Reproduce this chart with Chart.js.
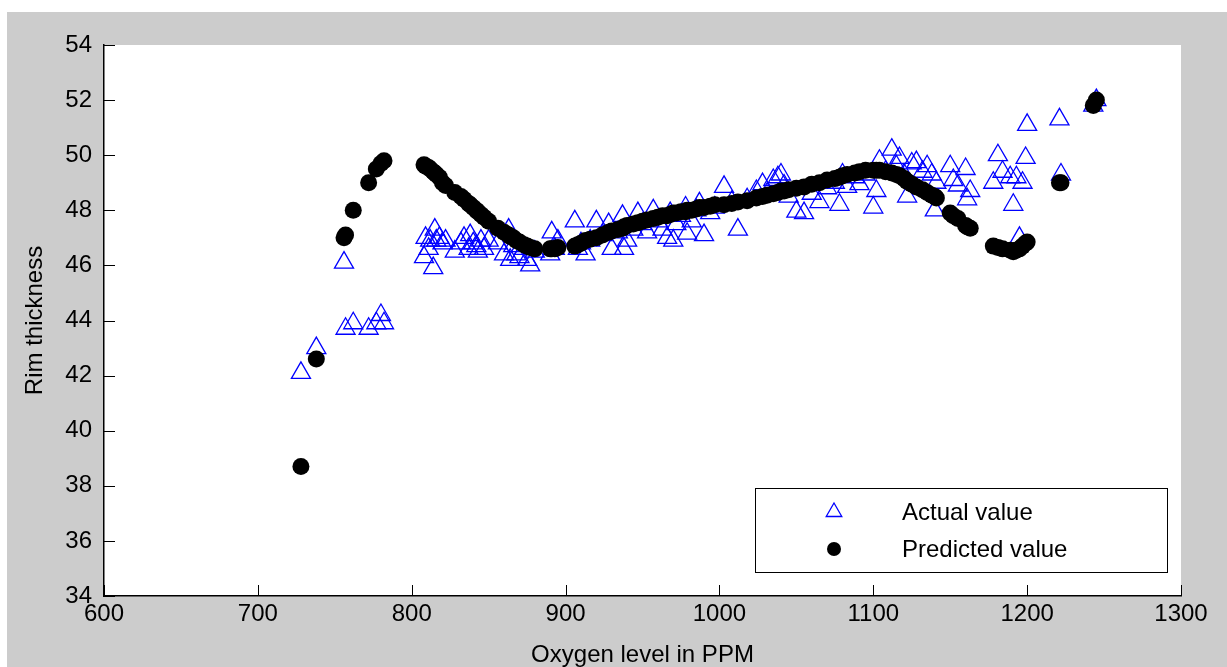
<!DOCTYPE html>
<html>
<head>
<meta charset="utf-8">
<script src="https://cdn.jsdelivr.net/npm/chart.js@4.4.1/dist/chart.umd.min.js"></script>
<style>
    body { margin: 0; background: #ffffff; }
    canvas { display: block; }
</style>
</head>
<body>
<canvas id="myChart" width="1227" height="667"></canvas>
<script>
// oxygen level (PPM) for each sample
const oxygen = [
    728, 738, 756, 757, 762, 772, 777, 780, 782,
    808, 809, 811, 812, 814, 815, 816, 818, 820, 822,
    828, 832, 834, 837, 838, 840, 842, 843, 845, 847, 850,
    856, 860, 863, 864, 866, 868, 870, 873, 875, 877, 880,
    890, 891, 893, 895, 906, 908, 910, 913, 916, 920,
    924, 928, 930, 934, 937, 938, 940, 944, 947, 950,
    953, 957, 960, 963, 966, 968, 970, 972, 975, 978,
    979, 982, 985, 987, 990, 994, 997, 1003, 1008, 1012,
    1018, 1024, 1028, 1031, 1035, 1038, 1040, 1042, 1045, 1050,
    1055, 1060, 1065, 1070, 1075, 1078, 1080, 1083, 1088, 1091,
    1095, 1100, 1102, 1104, 1108, 1112, 1115, 1117, 1120, 1122,
    1125, 1128, 1132, 1135, 1138, 1140, 1141, 1150, 1152, 1155,
    1160, 1161, 1163, 1178, 1181, 1184, 1189, 1191, 1193, 1195,
    1197, 1199, 1200, 1221, 1222, 1243, 1245
];

const actual = [
    42.1, 43.0, 46.1, 43.7, 43.9, 43.7, 43.9, 44.2, 43.9,
    46.3, 47.0, 46.6, 46.9, 45.9, 47.3, 46.9, 47.0, 46.8, 46.9,
    46.5, 46.8, 47.0, 46.6, 47.1, 46.8, 46.7, 46.5, 46.9, 46.6, 46.9,
    46.8, 46.4, 47.3, 46.2, 46.7, 46.4, 46.3, 46.6, 46.2, 46.0, 46.5,
    46.4, 47.2, 46.6, 46.9, 47.6, 46.6, 46.8, 46.4, 46.9, 47.6,
    47.1, 47.5, 46.6, 47.2, 47.8, 46.6, 46.9, 47.3, 47.9, 47.5,
    47.2, 48.0, 47.6, 47.3, 47.0, 47.9, 46.9, 47.5, 47.8, 48.1,
    47.15, 47.6, 48.0, 48.25, 47.1, 47.9, 48.1, 48.85, 48.3, 47.3,
    48.4, 48.7, 48.95, 48.6, 49.1, 49.2, 49.3, 48.9, 48.5, 47.95,
    47.9, 48.6, 48.3, 48.8, 49.0, 48.2, 49.3, 48.85, 49.2, 48.95,
    49.3, 48.1, 48.7, 49.8, 49.4, 50.2, 49.6, 49.9, 49.3, 48.5,
    49.7, 49.75, 49.4, 49.6, 49.3, 48.0, 49.0, 49.6, 49.1, 48.9,
    49.5, 48.4, 48.7, 49.0, 50.0, 49.4, 49.2, 48.2, 49.2, 47.0,
    49.0, 49.9, 51.1, 51.3, 49.3, 51.8, 52.0
];

const predicted = [
    38.7, 42.6, 47.0, 47.1, 48.0, 49.0, 49.5, 49.7, 49.8,
    49.65, 49.6, 49.55, 49.5, 49.4, 49.35, 49.3, 49.2, 49.0, 48.9,
    48.65, 48.5, 48.4, 48.25, 48.2, 48.1, 48.0, 47.95, 47.85, 47.75, 47.6,
    47.35, 47.2, 47.1, 47.05, 47.0, 46.9, 46.85, 46.75, 46.7, 46.65, 46.6,
    46.6, 46.6, 46.6, 46.65, 46.7, 46.75, 46.8, 46.9, 46.95, 47.0,
    47.1, 47.2, 47.25, 47.3, 47.35, 47.4, 47.45, 47.5, 47.55, 47.6,
    47.65, 47.7, 47.75, 47.8, 47.8, 47.85, 47.9, 47.9, 47.95, 47.95,
    48.0, 48.0, 48.05, 48.1, 48.1, 48.15, 48.2, 48.2, 48.25, 48.3,
    48.35, 48.45, 48.5, 48.55, 48.6, 48.65, 48.7, 48.7, 48.75, 48.8,
    48.85, 48.95, 49.0, 49.1, 49.15, 49.2, 49.25, 49.3, 49.35, 49.4,
    49.45, 49.45, 49.45, 49.45, 49.4, 49.35, 49.3, 49.25, 49.15, 49.05,
    48.95, 48.85, 48.75, 48.65, 48.55, 48.5, 48.45, 47.9, 47.8, 47.7,
    47.45, 47.4, 47.35, 46.7, 46.65, 46.6, 46.55, 46.5, 46.55, 46.6,
    46.7, 46.8, 46.85, 49.0, 49.0, 51.8, 52.0
];

const xMin = 600, xMax = 1300, xStep = 100;
const yMin = 34, yMax = 54, yStep = 2;

const fontFamily = '"Liberation Sans", Arial, sans-serif';

function toPoints(ys) {
    return oxygen.map(function (x, i) { return { x: x, y: ys[i] }; });
}

// gray figure around a white axes box
const figureBackground = {
    id: 'figureBackground',
    beforeDraw: function (chart) {
        const ctx = chart.ctx;
        const a = chart.chartArea;
        ctx.save();
        ctx.fillStyle = '#ffffff';
        ctx.fillRect(0, 0, chart.width, chart.height);
        ctx.fillStyle = '#cccccc';
        ctx.fillRect(7, 12, chart.width - 7, chart.height - 12);
        ctx.fillStyle = '#ffffff';
        ctx.fillRect(a.left, a.top, a.right - a.left, a.bottom - a.top);
        ctx.restore();
    }
};

// matlab style ticks that point into the plot
const inwardTicks = {
    id: 'inwardTicks',
    afterDatasetsDraw: function (chart) {
        const ctx = chart.ctx;
        const xs = chart.scales.x;
        const ys = chart.scales.y;
        ctx.save();
        ctx.strokeStyle = '#000000';
        ctx.lineWidth = 1;
        ctx.beginPath();
        xs.ticks.forEach(function (t) {
            const px = Math.round(xs.getPixelForValue(t.value)) + 0.5;
            ctx.moveTo(px, ys.bottom);
            ctx.lineTo(px, ys.bottom - 11);
        });
        ys.ticks.forEach(function (t) {
            const py = Math.round(ys.getPixelForValue(t.value)) + 0.5;
            ctx.moveTo(xs.left, py);
            ctx.lineTo(xs.left + 11, py);
        });
        ctx.stroke();
        ctx.restore();
    }
};

// boxed legend in the lower right corner
const boxLegend = {
    id: 'boxLegend',
    afterDraw: function (chart) {
        const ctx = chart.ctx;
        const a = chart.chartArea;
        const box = { left: a.right - 426, top: a.bottom - 108, width: 412, height: 84 };
        const order = [1, 0];
        ctx.save();
        ctx.fillStyle = '#ffffff';
        ctx.fillRect(box.left, box.top, box.width, box.height);
        ctx.strokeStyle = '#000000';
        ctx.lineWidth = 1;
        ctx.strokeRect(box.left + 0.5, box.top + 0.5, box.width, box.height);
        order.forEach(function (di, row) {
            const ds = chart.data.datasets[di];
            const cy = box.top + 24 + row * 37;
            ctx.fillStyle = ds.backgroundColor;
            ctx.strokeStyle = ds.borderColor;
            ctx.lineWidth = ds.borderWidth;
            Chart.helpers.drawPoint(ctx, {
                pointStyle: ds.pointStyle,
                radius: ds.legendRadius,
                rotation: 0,
                borderWidth: ds.borderWidth
            }, box.left + 79, cy);
            ctx.fillStyle = '#000000';
            ctx.font = '24px ' + fontFamily;
            ctx.textBaseline = 'middle';
            ctx.textAlign = 'left';
            ctx.fillText(ds.label, box.left + 147, cy + 1);
        });
        ctx.restore();
    }
};

function ShowChart() {
    const data = {
        datasets: [{
            label: 'Predicted value',
            data: toPoints(predicted),
            pointStyle: 'circle',
            pointRadius: 8.5,
            legendRadius: 7,
            backgroundColor: '#000000',
            borderColor: '#000000',
            borderWidth: 0,
            order: 1
        }, {
            label: 'Actual value',
            data: toPoints(actual),
            pointStyle: 'triangle',
            pointRadius: 11,
            legendRadius: 9,
            backgroundColor: 'rgba(0,0,0,0)',
            borderColor: '#0000ff',
            borderWidth: 1.3,
            order: 2
        }]
    };

    const tickFont = { family: fontFamily, size: 24 };
    const titleFont = { family: fontFamily, size: 24, lineHeight: 1 };

    const config = {
        type: 'scatter',
        data: data,
        plugins: [figureBackground, inwardTicks, boxLegend],
        options: {
            responsive: false,
            animation: false,
            layout: {
                padding: { left: 0, top: 45, right: 46, bottom: 0 }
            },
            plugins: {
                legend: { display: false },
                tooltip: { enabled: false }
            },
            scales: {
                x: {
                    type: 'linear',
                    min: xMin,
                    max: xMax,
                    ticks: {
                        stepSize: xStep,
                        color: '#000000',
                        font: tickFont,
                        padding: 4,
                        maxRotation: 0,
                        autoSkip: false,
                        callback: function (value) { return String(value); }
                    },
                    grid: { drawOnChartArea: false, drawTicks: false },
                    border: { color: '#000000', width: 1.5 },
                    title: {
                        display: true,
                        text: 'Oxygen level in PPM',
                        color: '#000000',
                        font: titleFont,
                        padding: 0
                    },
                    afterFit: function (scale) { scale.height = 71; }
                },
                y: {
                    type: 'linear',
                    min: yMin,
                    max: yMax,
                    ticks: {
                        stepSize: yStep,
                        color: '#000000',
                        font: tickFont,
                        padding: 12,
                        callback: function (value) { return String(value); }
                    },
                    grid: { drawOnChartArea: false, drawTicks: false },
                    border: { color: '#000000', width: 1.5 },
                    title: {
                        display: true,
                        text: 'Rim thickness',
                        color: '#000000',
                        font: titleFont,
                        padding: { top: 23, bottom: 0 }
                    },
                    afterFit: function (scale) { scale.width = 104; }
                }
            }
        }
    };

    const myChart = new Chart(
        document.getElementById('myChart'),
        config
    );
}

ShowChart();
</script>
</body>
</html>
